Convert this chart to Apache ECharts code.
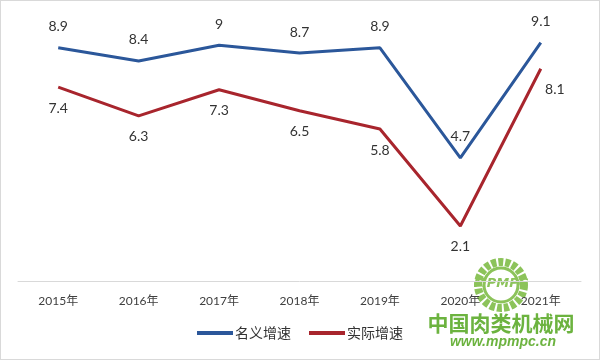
<!DOCTYPE html>
<html><head><meta charset="utf-8">
<script src="https://cdn.jsdelivr.net/npm/echarts@6/dist/echarts.min.js"></script>
<style>html,body{margin:0;padding:0;background:#fff}#c{width:600px;height:360px;box-sizing:border-box;border:1px solid #d9d9d9}</style>
</head><body><div id="c"></div>
<script>
const categories = ['2015年','2016年','2017年','2018年','2019年','2020年','2021年'];
const nominal = [8.9, 8.4, 9, 8.7, 8.9, 4.7, 9.1];
const real = [7.4, 6.3, 7.3, 6.5, 5.8, 2.1, 8.1];
const seriesNames = ['名义增速','实际增速'];

const font = 'Lato, "Noto Sans CJK SC", sans-serif';
const chart = echarts.init(document.getElementById('c'));
chart.setOption({
  animation: false,
  grid: {left: 17, right: 18, top: 18, bottom: 78},
  legend: {
    data: seriesNames, bottom: 14, left: 'center', itemWidth: 36, itemHeight: 4, itemGap: 18,
    icon: 'rect',
    textStyle: {fontFamily: font, fontSize: 14, color: '#333', padding: [0,0,0,-3]}
  },
  xAxis: {
    type: 'category', data: categories, boundaryGap: true,
    axisLine: {lineStyle: {color: '#d9d9d9', width: 1}},
    axisTick: {show: false},
    axisLabel: {fontFamily: font, fontSize: 12, color: '#404040', margin: 14}
  },
  yAxis: {type: 'value', min: 0, max: 10, show: false, splitLine: {show: false}},
  series: [
    {
      name: seriesNames[0], type: 'line', data: nominal, symbol: 'circle', symbolSize: 0, showSymbol: true,
      lineStyle: {color: '#2b579a', width: 3}, itemStyle: {color: '#2b579a'},
      label: {show: true, position: 'top', distance: 14, fontFamily: font, fontSize: 14, color: '#333'}
    },
    {
      name: seriesNames[1], type: 'line',
      data: real.map((v, i) => i === real.length - 1
        ? {value: v, label: {position: 'bottom', distance: 14, offset: [14, 0]}}
        : v),
      symbol: 'circle', symbolSize: 0, showSymbol: true,
      lineStyle: {color: '#a8252d', width: 3}, itemStyle: {color: '#a8252d'},
      label: {show: true, position: 'bottom', distance: 14, fontFamily: font, fontSize: 14, color: '#333'}
    }
  ],
  graphic: [
    {type: 'circle', shape: {cx: 500, cy: 284, r: 23}, style: {fill: 'none', stroke: '#8cc35a', lineWidth: 8, lineDash: [5, 2]}, z: 0, silent: true},
    {type: 'circle', shape: {cx: 500, cy: 284, r: 17}, style: {fill: 'none', stroke: '#8cc35a', lineWidth: 3}, z: 0, silent: true},
    {type: 'text', x: 500, y: 283, style: {text: 'MPMPC', fontSize: 13, fontStyle: 'italic', fontWeight: 'bold', fill: '#8cc35a', align: 'center', verticalAlign: 'middle', fontFamily: 'DejaVu Sans'}, z: 0, silent: true},
    {type: 'text', x: 500, y: 322, style: {text: '中国肉类机械网', fontSize: 21, fontWeight: 'bold', fill: '#6cb33f', align: 'center', verticalAlign: 'middle', fontFamily: '"Noto Sans CJK SC"'}, silent: true},
    {type: 'text', x: 502, y: 341, style: {text: 'www.mpmpc.cn', fontSize: 14, fontWeight: 'bold', fontStyle: 'italic', fill: '#6cb33f', align: 'center', verticalAlign: 'middle', fontFamily: '"Liberation Sans"'}, silent: true}
  ]
});
</script></body></html>
